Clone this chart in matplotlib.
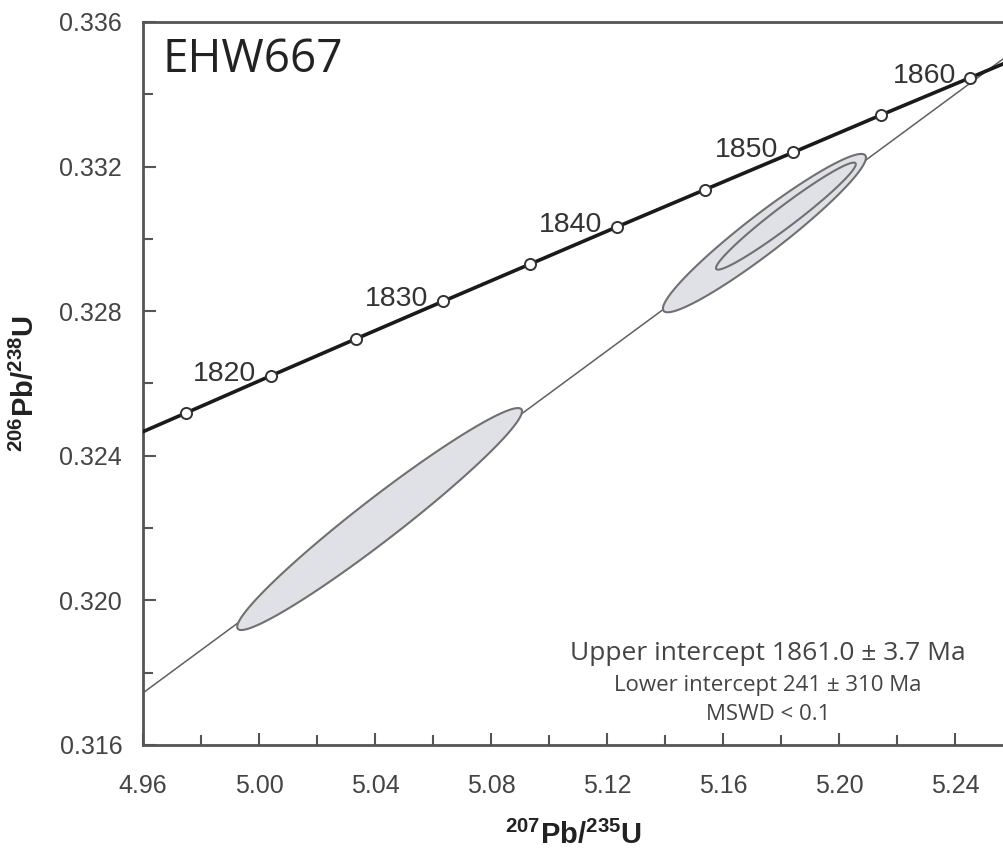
import numpy as np
import matplotlib
matplotlib.use("Agg")
import matplotlib.pyplot as plt

plt.rcParams['font.family'] = ['Liberation Sans', 'DejaVu Sans']
plt.rcParams['mathtext.fontset'] = 'custom'
plt.rcParams['mathtext.rm'] = 'Liberation Sans'
plt.rcParams['mathtext.bf'] = 'Liberation Sans:bold'

# concordia points (age in Ma, 207Pb/235U, 206Pb/238U)
ages = [1810, 1815, 1820, 1825, 1830, 1835, 1840, 1845, 1850, 1855, 1860, 1865]
conc_x = [4.9452, 4.9747, 5.0040, 5.0336, 5.0634, 5.0934, 5.1234, 5.1537, 5.1841, 5.2146, 5.2453, 5.2761]
conc_y = [0.32415, 0.32518, 0.32621, 0.32724, 0.32827, 0.32930, 0.33033, 0.33136, 0.33239, 0.33343, 0.33446, 0.33550]
marked_ages = [1815, 1820, 1825, 1830, 1835, 1840, 1845, 1850, 1855, 1860]
labelled_ages = [1820, 1830, 1840, 1850, 1860]

# discordia line end points
disc_x = [4.96, 5.26]
disc_y = [0.31744, 0.33518]

# error ellipses: centre x, centre y, half range x, half range y, rho
ell_x = [5.0416, 5.1743, 5.1817]
ell_y = [0.32225, 0.33016, 0.33063]
ell_dx = [0.0491, 0.0350, 0.0241]
ell_dy = [0.00307, 0.00219, 0.00148]
ell_rho = [0.971, 0.953, 0.970]

fig = plt.figure(figsize=(10.04, 8.52), dpi=100)
ax = fig.add_axes([0.1424, 0.1256, 0.8576, 0.8486])

ax.plot(disc_x, disc_y, color='#606060', lw=1.1, zorder=1)

t = np.linspace(0, 2 * np.pi, 400)
for mx, my, dx, dy, r in zip(ell_x, ell_y, ell_dx, ell_dy, ell_rho):
    ex = mx + dx * np.cos(t)
    ey = my + dy * (r * np.cos(t) + np.sqrt(1 - r ** 2) * np.sin(t))
    ax.fill(ex, ey, facecolor='#dfe1e6', edgecolor='#707070', lw=1.5, zorder=2)

ax.plot(conc_x, conc_y, color='#1a1a1a', lw=2.6, zorder=3)
mk = [ages.index(a) for a in marked_ages]
ax.plot([conc_x[i] for i in mk], [conc_y[i] for i in mk], 'o', ms=8,
        mfc='white', mec='#333333', mew=1.4, zorder=4)
for a in labelled_ages:
    i = ages.index(a)
    ax.annotate(str(a), (conc_x[i], conc_y[i]), xytext=(-10.5, -3.6),
                textcoords='offset points', ha='right', va='baseline',
                fontsize=20.5, color='#333333', zorder=5)

ax.set_xlim(4.96, 5.2569)
ax.set_ylim(0.316, 0.336)
ax.set_xticks(np.arange(4.96, 5.25, 0.04))
ax.set_xticks(np.arange(4.98, 5.25, 0.04), minor=True)
ax.set_yticks(np.arange(0.316, 0.3361, 0.004))
ax.set_yticks(np.arange(0.318, 0.336, 0.004), minor=True)
ax.xaxis.set_major_formatter(matplotlib.ticker.FormatStrFormatter('%.2f'))
ax.yaxis.set_major_formatter(matplotlib.ticker.FormatStrFormatter('%.3f'))
ax.tick_params(which='both', direction='in', color='#555555', width=1.5,
               labelsize=18, labelcolor='#444444')
ax.tick_params(which='major', length=9)
ax.tick_params(which='minor', length=7)
ax.tick_params(axis='x', pad=21)
ax.tick_params(axis='y', pad=15)
ax.spines['right'].set_visible(False)
for s in ['left', 'bottom', 'top']:
    ax.spines[s].set_color('#555555')
    ax.spines[s].set_linewidth(2)

ax.set_xlabel(r'$\mathbf{^{207}Pb/^{235}U}$', fontsize=21, color='#222222', labelpad=16)
ax.set_ylabel(r'$\mathbf{^{206}Pb/^{238}U}$', fontsize=21, color='#222222', labelpad=14)

ax.text(0.023, 0.931, 'EHW667', transform=ax.transAxes, fontsize=33,
        family='Open Sans', color='#222222', va='baseline')
ax.text(0.726, 0.1176, 'Upper intercept 1861.0 \u00b1 3.7 Ma', transform=ax.transAxes,
        fontsize=19, family='Open Sans', color='#444444', ha='center', va='baseline')
ax.text(0.726, 0.0747, 'Lower intercept 241 \u00b1 310 Ma', transform=ax.transAxes,
        fontsize=16, family='Open Sans', color='#444444', ha='center', va='baseline')
ax.text(0.726, 0.0346, 'MSWD < 0.1', transform=ax.transAxes,
        fontsize=16, family='Open Sans', color='#444444', ha='center', va='baseline')

fig.savefig('out.png', dpi=100)
